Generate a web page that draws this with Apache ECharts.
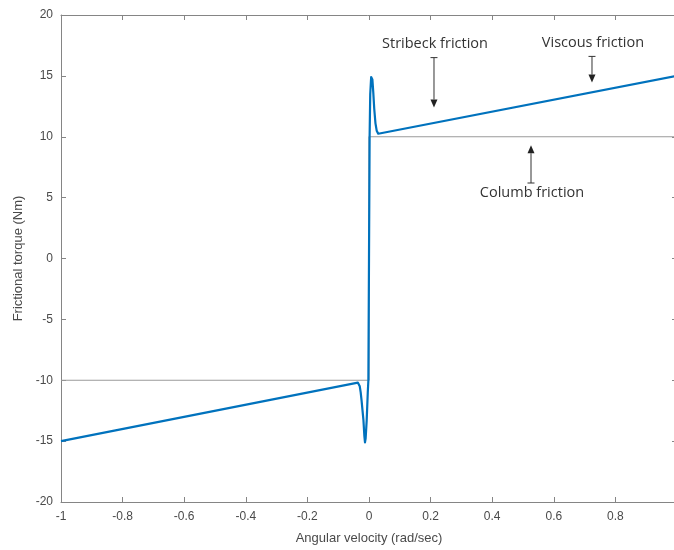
<!DOCTYPE html>
<html>
<head>
<meta charset="utf-8">
<script src="https://cdn.jsdelivr.net/npm/echarts@6/dist/echarts.min.js"></script>
<style>
html,body{margin:0;padding:0;background:#fff;}
#main{width:674px;height:550px;}
</style>
</head>
<body>
<div id="main"></div>
<script>
// Friction curve
const frictionX = [-1, -0.036, -0.033, -0.030, -0.027, -0.024, -0.021, -0.018, -0.015, -0.013, -0.011, -0.0075, -0.004, -0.002, 0,
                   0.001, 0.002, 0.004, 0.007, 0.009, 0.011, 0.014, 0.017, 0.021, 0.025, 0.030, 0.035, 1];
const frictionY = [-15, -10.2, -10.25, -10.5, -11.0, -11.7, -12.5, -13.3, -14.6, -15.1, -14.8, -13.3, -11.0, -10, 0,
                   0, 10, 13.5, 14.9, 15.0, 14.7, 13.6, 12.3, 11.1, 10.5, 10.25, 10.2, 15];
// Coulomb friction (sign function)
const coulombX = [-1, 0, 0, 1];
const coulombY = [-10, -10, 10, 10];
// axis ticks
const xTicks = [-1, -0.8, -0.6, -0.4, -0.2, 0, 0.2, 0.4, 0.6, 0.8];
const yTicks = [-20, -15, -10, -5, 0, 5, 10, 15, 20];
// annotations: label, arrow x, arrow start y (bar end), arrow end y (head end)
const annLabels = ['Stribeck friction', 'Viscous friction', 'Columb friction'];
const annX = [0.211, 0.724, 0.526];
const annFromY = [16.5, 16.6, 6.2];
const annToY = [12.4, 14.45, 9.3];

const chart = echarts.init(document.getElementById('main'), null, {renderer: 'canvas'});
const axisColor = '#858585';
const labelColor = '#4a4a4a';
const fontFam = '"Liberation Sans", Arial, sans-serif';

const zip = (xs, ys) => xs.map((x, i) => [x, ys[i]]);

chart.setOption({
  animation: false,
  backgroundColor: '#fff',
  grid: {left: 61, top: 15, width: 616, height: 487, containLabel: false, outerBoundsMode: 'none'},
  xAxis: [{
    type: 'value', min: -1, max: 1, interval: 0.2, position: 'bottom',
    name: 'Angular velocity (rad/sec)', nameLocation: 'middle', nameGap: 30,
    nameTextStyle: {color: labelColor, fontSize: 13, fontFamily: fontFam},
    axisLine: {show: true, onZero: false, lineStyle: {color: axisColor, width: 1}},
    axisTick: {show: true, inside: true, length: 5, lineStyle: {color: axisColor}},
    axisLabel: {color: labelColor, fontSize: 12, fontFamily: fontFam, margin: 9,
      formatter: v => { const r = Math.round(v * 10) / 10; return xTicks.includes(r) ? String(r) : ''; }},
    splitLine: {show: false}
  }, {
    type: 'value', min: -1, max: 1, interval: 0.2, position: 'top',
    axisLine: {show: true, onZero: false, lineStyle: {color: axisColor, width: 1}},
    axisTick: {show: true, inside: true, length: 5, lineStyle: {color: axisColor}},
    axisLabel: {show: false}, splitLine: {show: false}
  }],
  yAxis: [{
    type: 'value', min: -20, max: 20, interval: 5, position: 'left',
    name: 'Frictional torque (Nm)', nameLocation: 'middle', nameGap: 31,
    nameTextStyle: {color: labelColor, fontSize: 13, fontFamily: fontFam},
    axisLine: {show: true, onZero: false, lineStyle: {color: axisColor, width: 1}},
    axisTick: {show: true, inside: true, length: 5, lineStyle: {color: axisColor}},
    axisLabel: {color: labelColor, fontSize: 12, fontFamily: fontFam, margin: 8,
      formatter: v => yTicks.includes(v) ? String(v) : ''},
    splitLine: {show: false}
  }, {
    type: 'value', min: -20, max: 20, interval: 5, position: 'right',
    axisLine: {show: true, onZero: false, lineStyle: {color: axisColor, width: 1}},
    axisTick: {show: true, inside: true, length: 5, lineStyle: {color: axisColor}},
    axisLabel: {show: false}, splitLine: {show: false}
  }],
  series: [{
    type: 'line', name: 'Coulomb', data: zip(coulombX, coulombY),
    showSymbol: false, symbol: 'none', z: 2,
    lineStyle: {color: '#9a9a9a', width: 1.2}
  }, {
    type: 'line', name: 'Friction', data: zip(frictionX, frictionY),
    showSymbol: false, symbol: 'none', smooth: false, z: 3,
    lineStyle: {color: '#0072BD', width: 2.2, join: 'round'}
  }]
});

// annotations in data coordinates
const g = [];
annLabels.forEach((lab, i) => {
  const p0 = chart.convertToPixel({xAxisIndex: 0, yAxisIndex: 0}, [annX[i], annFromY[i]]);
  const p1 = chart.convertToPixel({xAxisIndex: 0, yAxisIndex: 0}, [annX[i], annToY[i]]);
  const dir = p1[1] > p0[1] ? 1 : -1;
  const headLen = 8, headW = 3.5;
  const lineEnd = p1[1] - dir * headLen;
  g.push({type: 'line', shape: {x1: p0[0], y1: p0[1], x2: p0[0], y2: lineEnd}, style: {stroke: '#333', lineWidth: 1}, z: 10});
  g.push({type: 'line', shape: {x1: p0[0] - 3.5, y1: p0[1], x2: p0[0] + 3.5, y2: p0[1]}, style: {stroke: '#333', lineWidth: 1}, z: 10});
  g.push({type: 'polygon', shape: {points: [[p1[0], p1[1]], [p1[0] - headW, lineEnd], [p1[0] + headW, lineEnd]]}, style: {fill: '#222'}, z: 10});
  const ty = dir === 1 ? p0[1] - 14 : p0[1] + 10;
  g.push({type: 'text', x: p0[0] + 1, y: ty, style: {text: lab, fill: '#333', font: '14.5px "Open Sans", sans-serif', align: 'center', verticalAlign: 'middle'}, z: 10});
});
chart.setOption({graphic: g});
</script>
</body>
</html>
